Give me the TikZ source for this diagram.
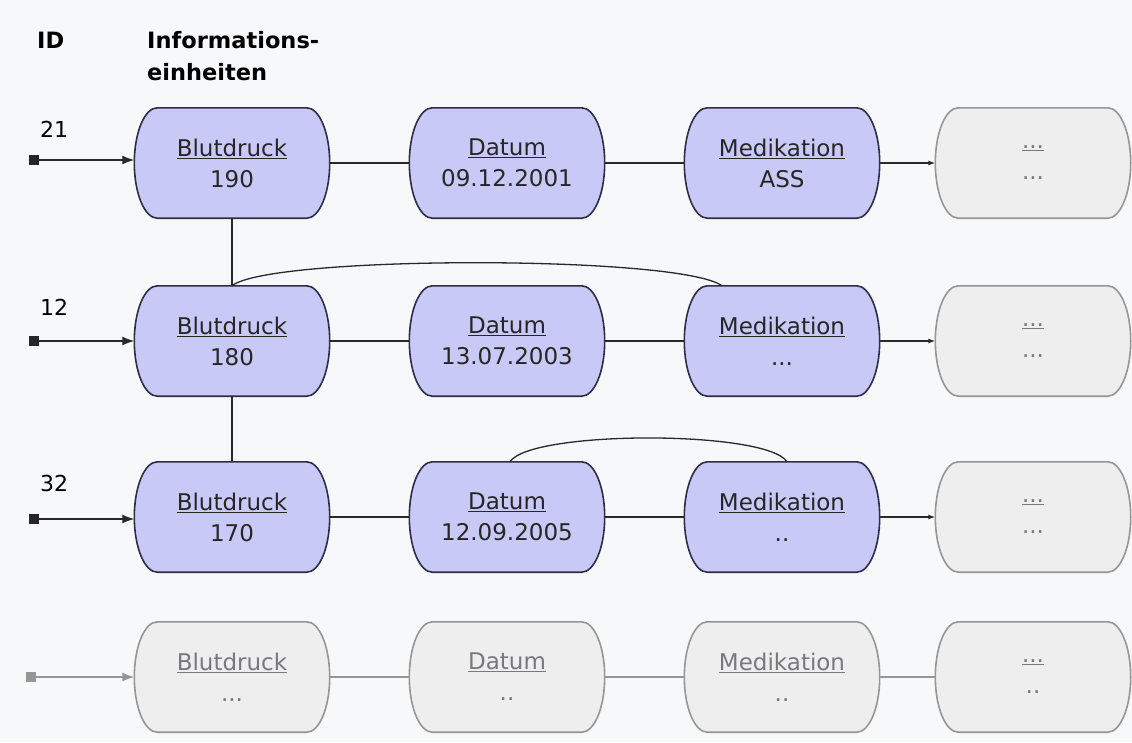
\documentclass[tikz,border=0pt]{standalone}
\usepackage{fontspec}
\setmainfont{DejaVu Sans}
\usetikzlibrary{arrows.meta,calc,backgrounds}
\definecolor{bg}{RGB}{247,248,250}
\definecolor{bluefill}{RGB}{201,201,247}
\definecolor{blueborder}{RGB}{45,45,70}
\definecolor{grayfill}{RGB}{238,238,238}
\definecolor{grayborder}{RGB}{150,150,150}
\definecolor{graytext}{RGB}{120,120,125}
\definecolor{lineblack}{RGB}{40,40,45}
\newcommand\infoboxoutline[2]{%
  \path[#2] ($(#1.north west)+(23,0)$) -- ($(#1.north east)+(-23,0)$)
    .. controls +(12.7,0) and +(0,-30.4) .. (#1.east)
    .. controls +(0,30.4) and +(12.7,0) .. ($(#1.south east)+(-23,0)$)
    -- ($(#1.south west)+(23,0)$)
    .. controls +(-12.7,0) and +(0,30.4) .. (#1.west)
    .. controls +(0,-30.4) and +(-12.7,0) .. ($(#1.north west)+(23,0)$)
    -- cycle;}
\begin{document}
\begin{tikzpicture}[x=1pt,y=-1pt,
  infobox/.style={rectangle,
    minimum width=195pt, minimum height=110pt, inner sep=0pt,
    align=center, font=\fontsize{23}{31}\selectfont},
  bluebox/.style={infobox, text=black!85},
  greybox/.style={infobox, text=graytext},
  blueoutline/.style={draw=blueborder, fill=bluefill, line width=1.6pt},
  greyoutline/.style={draw=grayborder, fill=grayfill, line width=1.6pt},
  conn/.style={draw=lineblack, line width=1.3pt},
  gconn/.style={draw=grayborder, line width=1.3pt},
  idsq/.style={rectangle, fill=black!85, minimum size=10pt, inner sep=0pt},
  gidsq/.style={rectangle, fill=grayborder, minimum size=10pt, inner sep=0pt},
  idnum/.style={anchor=base west, inner sep=0pt, font=\fontsize{22}{25}\selectfont},
  head/.style={anchor=base west, inner sep=0pt, align=left, font=\bfseries\fontsize{22.5}{32}\selectfont}
]
\useasboundingbox (0,0) rectangle (1132,742);

% header
\node[head] (hid) at (37,48) {ID};
\node[head] (hinfo) at (147,80) {Informations-\\einheiten};

% ID numbers
\node[idnum] (n21) at (40,137) {21};
\node[idnum] (n12) at (40,315) {12};
\node[idnum] (n32) at (40,491) {32};

% row 1
\node[bluebox] (bd1) at (232,163) {\underline{Blutdruck}\\190};
\node[bluebox] (da1) at (507,163) {\underline{Datum}\\09.12.2001};
\node[bluebox] (me1) at (782,163) {\underline{Medikation}\\ASS};
\node[greybox] (x1) at (1033,163) {\underline{...}\\...};
% row 2
\node[bluebox] (bd2) at (232,341) {\underline{Blutdruck}\\180};
\node[bluebox] (da2) at (507,341) {\underline{Datum}\\13.07.2003};
\node[bluebox] (me2) at (782,341) {\underline{Medikation}\\...};
\node[greybox] (x2) at (1033,341) {\underline{...}\\...};
% row 3
\node[bluebox] (bd3) at (232,517) {\underline{Blutdruck}\\170};
\node[bluebox] (da3) at (507,517) {\underline{Datum}\\12.09.2005};
\node[bluebox] (me3) at (782,517) {\underline{Medikation}\\..};
\node[greybox] (x3) at (1033,517) {\underline{...}\\...};
% row 4
\node[greybox] (bd4) at (232,677) {\underline{Blutdruck}\\...};
\node[greybox] (da4) at (507,677) {\underline{Datum}\\..};
\node[greybox] (me4) at (782,677) {\underline{Medikation}\\..};
\node[greybox] (x4) at (1033,677) {\underline{...}\\..};

\begin{pgfonlayer}{background}
  \fill[bg] (0,0) rectangle (1132,742);
  \foreach \n in {bd1,da1,me1,bd2,da2,me2,bd3,da3,me3}{\infoboxoutline{\n}{blueoutline}}
  \foreach \n in {x1,x2,x3,bd4,da4,me4,x4}{\infoboxoutline{\n}{greyoutline}}
\end{pgfonlayer}

% ID squares
\node[idsq] (s1) at (34,160) {};
\node[idsq] (s2) at (34,341) {};
\node[idsq] (s3) at (34,519) {};
\node[gidsq] (s4) at (31,677) {};

% entry arrows
\draw[conn, -{Latex[length=12pt,width=9pt]}] (s1) -- (s1 -| bd1.west);
\draw[conn, -{Latex[length=12pt,width=9pt]}] (s2) -- (s2 -| bd2.west);
\draw[conn, -{Latex[length=12pt,width=9pt]}] (s3) -- (s3 -| bd3.west);
\draw[gconn, -{Latex[length=12pt,width=9pt]}] (s4) -- (s4 -| bd4.west);

% horizontal connectors
\foreach \r in {1,2,3}{
  \draw[conn] (bd\r) -- (da\r);
  \draw[conn] (da\r) -- (me\r);
  \draw[conn, -{Latex[length=7pt,width=5pt]}] (me\r) -- (x\r);
}
\draw[gconn] (bd4) -- (da4);
\draw[gconn] (da4) -- (me4);
\draw[gconn] (me4) -- (x4);

% vertical connectors
\draw[conn] (bd1.south) -- (bd2.north);
\draw[conn] (bd2.south) -- (bd3.north);

% curved connectors
\coordinate (c2) at ($(me2.north)+(-60,0)$);
\draw[conn] (bd2.north) .. controls (270,255) and (680,255) .. (c2);
\coordinate (c3a) at ($(da3.north)+(3,0)$);
\coordinate (c3b) at ($(me3.north)+(5,0)$);
\draw[conn] (c3a) .. controls (530,430) and (767,430) .. (c3b);
\end{tikzpicture}
\end{document}
